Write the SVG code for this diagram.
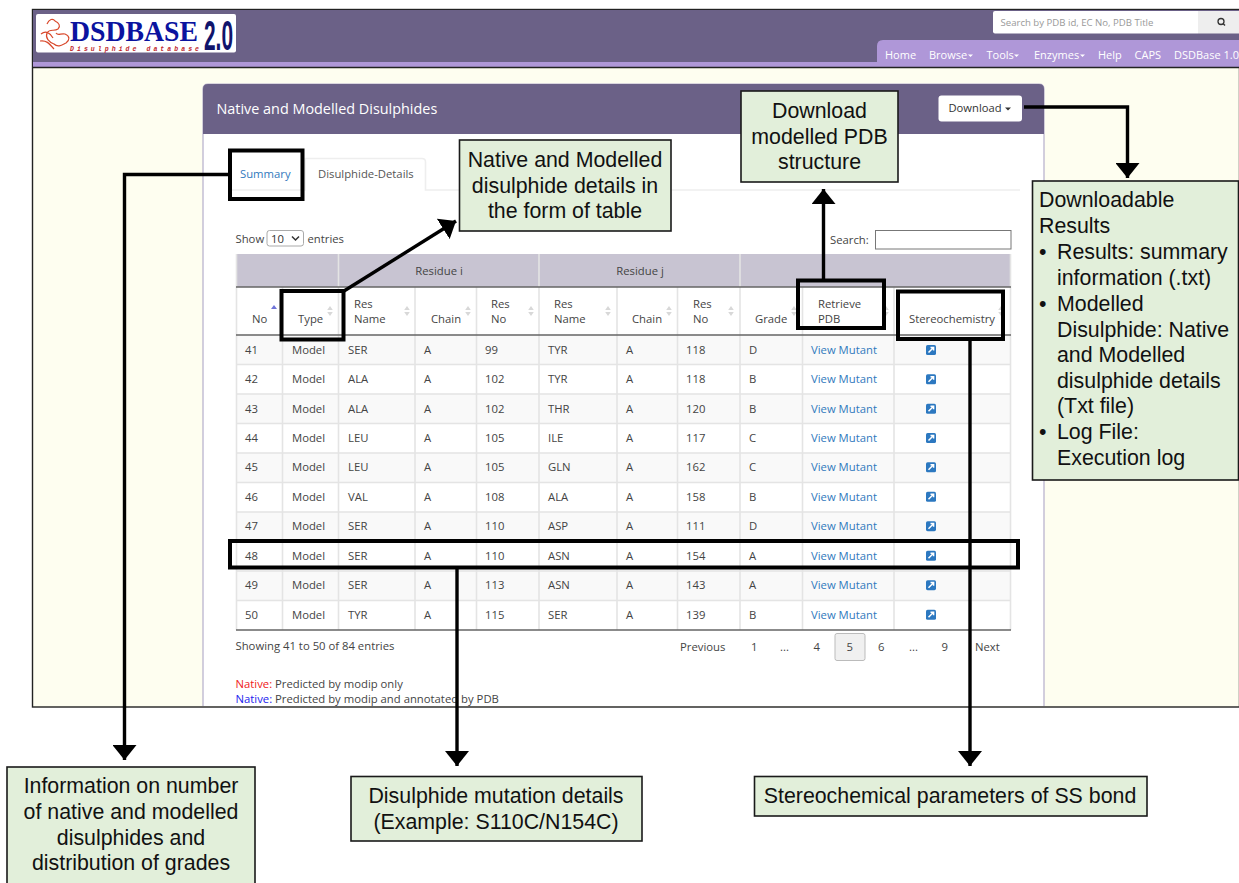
<svg xmlns="http://www.w3.org/2000/svg" width="1239" height="883" viewBox="0 0 1239 883">
<style>
text{font-family:"Open Sans","Noto Sans","Liberation Sans",sans-serif;font-size:11.3px;fill:#444}
.c{font-family:"Liberation Sans",Arial,sans-serif;font-size:21.35px;fill:#111}
.box{fill:#e2efda;stroke:#1a1a1a;stroke-width:1.6}
.hl{fill:none;stroke:#000;stroke-width:4}
.ln{fill:none;stroke:#000;stroke-width:3.4}
.l{fill:#3179bd}
.nav{fill:#fff;font-size:11px}
.g{stroke:#e4e4e4;stroke-width:1.6}
.s{fill:#d8d8d8}
</style>
<defs>
<marker id="a" markerUnits="userSpaceOnUse" markerWidth="16" markerHeight="24" refX="15" refY="12" orient="auto"><path d="M0 0L15 12L0 24Z" fill="#000"/></marker>
<g id="ico"><rect x="-5" y="-5" width="10" height="10" rx="1.6" fill="#2c78c0"/><path d="M-2.5 2.5L2 -2M-0.5 -2.6H2.6V0.5" stroke="#fff" stroke-width="1.5" fill="none"/></g>
<g id="sort"><path d="M0 -6L2.8 -2H-2.8ZM0 4L2.8 0H-2.8Z" class="s"/></g>
</defs>
<rect width="1239" height="883" fill="#fff"/>
<g id="screenshot">
<rect x="32.500" y="9.500" width="1207" height="697.500" fill="#fefef0" stroke="#222" stroke-width="1.400"/>
<rect x="33" y="10" width="1206" height="52.500" fill="#6b6187"/>
<rect x="33" y="62" width="1206" height="5" fill="#af97d8"/>
<path d="M877 67V46Q877 40 883 40H1239V67Z" fill="#af97d8"/>
<path d="M32 67.500H1239" stroke="#222" stroke-width="1.400"/>
<g id="logo">
<rect x="36" y="14" width="200" height="38.500" rx="2" fill="#fff"/>
<path d="M41 34C46 30 50 33 53 38M47 24C49 19 53 18 55 21C59 23 61 26 58 29C54 32 50 28 47 33C45 38 49 42 54 44C58 48 62 45 66 43C70 40 70 36 65 34C61 33 58 36 56 33M40 41C46 40 49 43 54 49" fill="none" stroke="#d9492c" stroke-width="1.200"/>
<text x="70" y="41" style="font-family:'Liberation Serif',serif;font-weight:bold;font-size:30px;fill:#0b139f" textLength="128" lengthAdjust="spacingAndGlyphs">DSDBASE</text>
<text x="204" y="49.500" style="font-family:'Liberation Sans',sans-serif;font-weight:bold;font-size:42px;fill:#10146b" textLength="29" lengthAdjust="spacingAndGlyphs">2.0</text>
<text x="70" y="50.500" style="font-family:'Liberation Mono',monospace;font-weight:bold;font-style:italic;font-size:6.500px;fill:#c0272d" textLength="129">Disulphide database</text>
</g>
<g id="search">
<path d="M995 11H1198V33.500H995Q993 33.500 993 31.500V13Q993 11 995 11Z" fill="#fff"/>
<rect x="1198" y="11" width="41" height="22.500" fill="#eee"/>
<text x="1000.500" y="26" style="font-size:9.600px;fill:#999">Search by PDB id, EC No, PDB Title</text>
<circle cx="1221" cy="21.500" r="3" fill="none" stroke="#333" stroke-width="1.300"/><path d="M1223 23.500L1225 25.500" stroke="#333" stroke-width="1.500"/>
</g>
<g id="nav">
<text class="nav" x="885" y="59">Home</text>
<text class="nav" x="929" y="59">Browse</text><path d="M968 54.500h5l-2.500 2.500z" fill="#fff"/>
<text class="nav" x="986.500" y="59">Tools</text><path d="M1014 54.500h5l-2.500 2.500z" fill="#fff"/>
<text class="nav" x="1034" y="59">Enzymes</text><path d="M1080 54.500h5l-2.500 2.500z" fill="#fff"/>
<text class="nav" x="1098" y="59">Help</text>
<text class="nav" x="1134.500" y="59">CAPS</text>
<text class="nav" x="1174" y="59">DSDBase 1.0</text>
</g>
<g id="panel">
<path d="M203 706V89Q203 84 208 84H1039Q1044 84 1044 89V706" fill="#fff" stroke="#b5aecb" stroke-width="1.200"/>
<path d="M203 134V89Q203 84 208 84H1039Q1044 84 1044 89V134Z" fill="#6b6187"/>
<text x="216.500" y="114" style="fill:#fff;font-size:14.400px">Native and Modelled Disulphides</text>
<rect x="938.500" y="95.500" width="83.500" height="26" rx="3" fill="#fff"/>
<text x="948.500" y="112" style="fill:#333;font-size:11.200px">Download</text><path d="M1005 107.500h6l-3 3z" fill="#333"/>
<path d="M228 190H305V158.500H422Q425.500 158.500 425.500 162V190H1020" fill="none" stroke="#eee" stroke-width="1.600"/>
<text x="240" y="178" style="fill:#3179bd">Summary</text>
<text x="318" y="178" style="fill:#555">Disulphide-Details</text>
<text x="235.500" y="242.500">Show</text>
<rect x="267" y="230.500" width="36.500" height="15.500" rx="2.500" fill="#fff" stroke="#aaa"/>
<text x="271" y="242.500" style="fill:#333">10</text><path d="M292 236.500L295.500 240L299 236.500" fill="none" stroke="#333" stroke-width="1.500"/>
<text x="307.500" y="242.500">entries</text>
<text x="830" y="243.500">Search:</text>
<rect x="875.500" y="230.500" width="135.500" height="18.500" fill="#fff" stroke="#777"/>
</g>
<g id="table">
<rect x="236" y="254" width="775" height="33" fill="#c8c4d2"/>
<rect x="236" y="335" width="775" height="29.500" fill="#f9f9f9"/>
<rect x="236" y="394" width="775" height="29.500" fill="#f9f9f9"/>
<rect x="236" y="453" width="775" height="29.500" fill="#f9f9f9"/>
<rect x="236" y="512" width="775" height="29.500" fill="#f9f9f9"/>
<rect x="236" y="571" width="775" height="29.500" fill="#f9f9f9"/>
<path class="g" d="M236.500 254V630M282.500 287V630M338.500 254V630M415 287V630M476.500 287V630M539 254V630M617 287V630M677.500 287V630M740 254V630M802.500 287V630M894 287V630M1010.500 254V630M236 364.500H1011M236 394H1011M236 423.500H1011M236 453H1011M236 482.500H1011M236 512H1011M236 541.500H1011M236 571H1011M236 600.500H1011"/>
<path d="M236 287H1011M236 335H1011M236 630H1011" stroke="#666" stroke-width="1.400"/>
<text x="439" y="274.500" text-anchor="middle">Residue i</text>
<text x="640" y="274.500" text-anchor="middle">Residue j</text>
<text x="252" y="323">No</text><path d="M274 305l3 4h-6z" fill="#6f74d8"/>
<text x="298" y="323">Type</text><use href="#sort" x="330" y="312"/>
<text x="354" y="308">Res</text><text x="354" y="323">Name</text><use href="#sort" x="407" y="312"/>
<text x="431" y="323">Chain</text><use href="#sort" x="468" y="312"/>
<text x="491" y="308">Res</text><text x="491" y="323">No</text><use href="#sort" x="531" y="312"/>
<text x="554" y="308">Res</text><text x="554" y="323">Name</text><use href="#sort" x="608" y="312"/>
<text x="632" y="323">Chain</text><use href="#sort" x="669" y="312"/>
<text x="693" y="308">Res</text><text x="693" y="323">No</text><use href="#sort" x="731" y="312"/>
<text x="755" y="323">Grade</text><use href="#sort" x="794" y="312"/>
<text x="818" y="308">Retrieve</text><text x="818" y="323">PDB</text><use href="#sort" x="886" y="312"/>
<text x="909" y="323">Stereochemistry</text><use href="#sort" x="1001" y="312"/>
<g id="r41"><text x="245" y="354">41</text><text x="292" y="354">Model</text><text x="348" y="354">SER</text><text x="424" y="354">A</text><text x="485" y="354">99</text><text x="548" y="354">TYR</text><text x="626" y="354">A</text><text x="686" y="354">118</text><text x="749" y="354">D</text><text x="811" y="354" class="l">View Mutant</text><use href="#ico" x="931" y="350"/></g>
<g id="r42"><text x="245" y="383.300">42</text><text x="292" y="383.300">Model</text><text x="348" y="383.300">ALA</text><text x="424" y="383.300">A</text><text x="485" y="383.300">102</text><text x="548" y="383.300">TYR</text><text x="626" y="383.300">A</text><text x="686" y="383.300">118</text><text x="749" y="383.300">B</text><text x="811" y="383.300" class="l">View Mutant</text><use href="#ico" x="931" y="379.300"/></g>
<g id="r43"><text x="245" y="412.800">43</text><text x="292" y="412.800">Model</text><text x="348" y="412.800">ALA</text><text x="424" y="412.800">A</text><text x="485" y="412.800">102</text><text x="548" y="412.800">THR</text><text x="626" y="412.800">A</text><text x="686" y="412.800">120</text><text x="749" y="412.800">B</text><text x="811" y="412.800" class="l">View Mutant</text><use href="#ico" x="931" y="408.800"/></g>
<g id="r44"><text x="245" y="442">44</text><text x="292" y="442">Model</text><text x="348" y="442">LEU</text><text x="424" y="442">A</text><text x="485" y="442">105</text><text x="548" y="442">ILE</text><text x="626" y="442">A</text><text x="686" y="442">117</text><text x="749" y="442">C</text><text x="811" y="442" class="l">View Mutant</text><use href="#ico" x="931" y="438"/></g>
<g id="r45"><text x="245" y="471.300">45</text><text x="292" y="471.300">Model</text><text x="348" y="471.300">LEU</text><text x="424" y="471.300">A</text><text x="485" y="471.300">105</text><text x="548" y="471.300">GLN</text><text x="626" y="471.300">A</text><text x="686" y="471.300">162</text><text x="749" y="471.300">C</text><text x="811" y="471.300" class="l">View Mutant</text><use href="#ico" x="931" y="467.300"/></g>
<g id="r46"><text x="245" y="500.800">46</text><text x="292" y="500.800">Model</text><text x="348" y="500.800">VAL</text><text x="424" y="500.800">A</text><text x="485" y="500.800">108</text><text x="548" y="500.800">ALA</text><text x="626" y="500.800">A</text><text x="686" y="500.800">158</text><text x="749" y="500.800">B</text><text x="811" y="500.800" class="l">View Mutant</text><use href="#ico" x="931" y="496.800"/></g>
<g id="r47"><text x="245" y="530.200">47</text><text x="292" y="530.200">Model</text><text x="348" y="530.200">SER</text><text x="424" y="530.200">A</text><text x="485" y="530.200">110</text><text x="548" y="530.200">ASP</text><text x="626" y="530.200">A</text><text x="686" y="530.200">111</text><text x="749" y="530.200">D</text><text x="811" y="530.200" class="l">View Mutant</text><use href="#ico" x="931" y="526.200"/></g>
<g id="r48"><text x="245" y="559.800">48</text><text x="292" y="559.800">Model</text><text x="348" y="559.800">SER</text><text x="424" y="559.800">A</text><text x="485" y="559.800">110</text><text x="548" y="559.800">ASN</text><text x="626" y="559.800">A</text><text x="686" y="559.800">154</text><text x="749" y="559.800">A</text><text x="811" y="559.800" class="l">View Mutant</text><use href="#ico" x="931" y="555.800"/></g>
<g id="r49"><text x="245" y="589.200">49</text><text x="292" y="589.200">Model</text><text x="348" y="589.200">SER</text><text x="424" y="589.200">A</text><text x="485" y="589.200">113</text><text x="548" y="589.200">ASN</text><text x="626" y="589.200">A</text><text x="686" y="589.200">143</text><text x="749" y="589.200">A</text><text x="811" y="589.200" class="l">View Mutant</text><use href="#ico" x="931" y="585.200"/></g>
<g id="r50"><text x="245" y="618.800">50</text><text x="292" y="618.800">Model</text><text x="348" y="618.800">TYR</text><text x="424" y="618.800">A</text><text x="485" y="618.800">115</text><text x="548" y="618.800">SER</text><text x="626" y="618.800">A</text><text x="686" y="618.800">139</text><text x="749" y="618.800">B</text><text x="811" y="618.800" class="l">View Mutant</text><use href="#ico" x="931" y="614.800"/></g>
</g>
<g id="footer">
<text x="235.500" y="650">Showing 41 to 50 of 84 entries</text>
<text x="680" y="651">Previous</text>
<text x="751" y="651">1</text><text x="780" y="651">...</text><text x="813.500" y="651">4</text>
<rect x="835" y="633.500" width="30" height="27" rx="2" fill="#f0f0f0" stroke="#bbb"/>
<text x="846.500" y="651">5</text><text x="878" y="651">6</text><text x="909" y="651">...</text><text x="941.500" y="651">9</text><text x="975" y="651">Next</text>
<text x="235.500" y="688"><tspan style="fill:#f01818">Native:</tspan> Predicted by modip only</text>
<text x="235.500" y="703"><tspan style="fill:#2222ee">Native:</tspan> Predicted by modip and annotated by PDB</text>
</g>
</g>
<g id="connectors">
<rect class="hl" x="230" y="150.500" width="72.500" height="48.500"/>
<rect class="hl" x="281.500" y="291" width="62" height="48.500"/>
<rect class="hl" x="798" y="280.500" width="86" height="47.500"/>
<rect class="hl" x="898" y="291.500" width="105" height="47.500"/>
<rect class="hl" x="230" y="541" width="788" height="26.500"/>
<path class="ln" d="M230 174.500H124.500V760" marker-end="url(#a)"/>
<path class="ln" d="M344 291L456 221" marker-end="url(#a)"/>
<path class="ln" d="M823.500 279V189" marker-end="url(#a)"/>
<path class="ln" d="M1024 107H1127.500V178" marker-end="url(#a)"/>
<path class="ln" d="M457 568V766" marker-end="url(#a)"/>
<path class="ln" d="M970 339V766" marker-end="url(#a)"/>
</g>
<g id="n-table"><rect class="box" x="459.500" y="140" width="211.500" height="91"/>
<text class="c" x="565" y="166.500" text-anchor="middle">Native and Modelled</text><text class="c" x="565" y="192.500" text-anchor="middle">disulphide details in</text><text class="c" x="565" y="218" text-anchor="middle">the form of table</text></g>
<g id="n-pdb"><rect class="box" x="741" y="91" width="157" height="91"/>
<text class="c" x="819.500" y="117.500" text-anchor="middle">Download</text><text class="c" x="819.500" y="143.500" text-anchor="middle">modelled PDB</text><text class="c" x="819.500" y="168.500" text-anchor="middle">structure</text></g>
<g id="n-results"><rect class="box" x="1032.500" y="181" width="206" height="299"/>
<text class="c" x="1039" y="207">Downloadable</text><text class="c" x="1039" y="233">Results</text>
<text class="c" x="1039" y="259">•</text><text class="c" x="1057" y="259">Results: summary</text><text class="c" x="1057" y="285">information (.txt)</text>
<text class="c" x="1039" y="310.500">•</text><text class="c" x="1057" y="310.500">Modelled</text><text class="c" x="1057" y="336.500">Disulphide: Native</text><text class="c" x="1057" y="362">and Modelled</text><text class="c" x="1057" y="387.500">disulphide details</text><text class="c" x="1057" y="413">(Txt file)</text>
<text class="c" x="1039" y="439">•</text><text class="c" x="1057" y="439">Log File:</text><text class="c" x="1057" y="464.500">Execution log</text></g>
<g id="n-info"><rect class="box" x="7" y="767" width="248" height="117"/>
<text class="c" x="131" y="793" text-anchor="middle">Information on number</text><text class="c" x="131" y="819" text-anchor="middle">of native and modelled</text><text class="c" x="131" y="844.500" text-anchor="middle">disulphides and</text><text class="c" x="131" y="870" text-anchor="middle">distribution of grades</text></g>
<g id="n-mutation"><rect class="box" x="351" y="776.500" width="291" height="64.500"/>
<text class="c" x="496" y="803" text-anchor="middle">Disulphide mutation details</text><text class="c" x="496" y="829" text-anchor="middle">(Example: S110C/N154C)</text></g>
<g id="n-stereo"><rect class="box" x="754.500" y="776.500" width="392.500" height="39.500"/>
<text class="c" x="950" y="803" text-anchor="middle">Stereochemical parameters of SS bond</text></g>
</svg>
